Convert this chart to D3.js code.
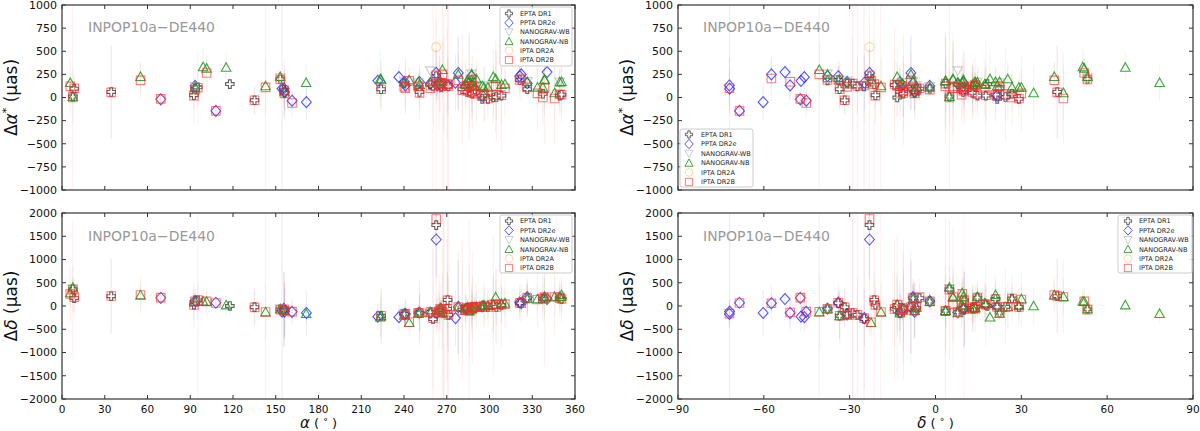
<!DOCTYPE html>
<html><head><meta charset="utf-8">
<script src="https://cdn.jsdelivr.net/npm/d3@7"></script>
<style>body{margin:0;background:#fff}svg{display:block}text{font-family:"DejaVu Sans",sans-serif}</style>
</head><body><svg id="c" width="1200" height="431"></svg>
<script>
// pulsar catalogue: name, right ascension (deg), declination (deg)
const pulsars = [
 ["J0023+0923",5.82,9.39],["J0030+0451",7.61,4.86],["J0034-0534",8.59,-5.58],["J0218+4232",34.53,42.54],
 ["J0340+4130",55.10,41.51],["J0437-4715",69.32,-47.25],["J0610-2100",92.56,-21.01],["J0613-0200",93.43,-2.01],
 ["J0621+1002",95.31,10.04],["J0636+5128",99.02,51.48],["J0645+5158",101.46,51.98],["J0711-6830",107.98,-68.51],
 ["J0740+6620",115.19,66.34],["J0751+1807",117.79,18.13],["J0900-3144",135.09,-31.74],["J0931-1902",142.84,-19.05],
 ["J1012+5307",153.14,53.12],["J1017-7156",154.37,-71.95],["J1022+1001",155.74,10.03],["J1024-0719",156.16,-7.32],
 ["J1045-4509",161.46,-45.17],["J1125+7819",171.33,78.32],["J1125-6014",171.49,-60.24],["J1446-4701",221.66,-47.02],
 ["J1453+1902",223.37,19.04],["J1455-3330",223.95,-33.51],["J1545-4550",236.44,-45.84],["J1600-3053",240.22,-30.90],
 ["J1603-7202",240.97,-72.04],["J1614-2230",243.65,-22.51],["J1640+2224",250.07,22.40],["J1643-1224",250.91,-12.42],
 ["J1713+0747",258.46,7.79],["J1721-2457",260.36,-24.95],["J1730-2304",262.59,-23.08],["J1732-5049",263.20,-50.82],
 ["J1738+0333",264.73,3.55],["J1741+1351",265.38,13.86],["J1744-1134",266.12,-11.58],["J1747-4036",266.95,-40.62],
 ["J1751-2857",267.92,-28.95],["J1801-1417",270.35,-14.29],["J1802-2124",270.59,-21.41],["J1804-2717",271.12,-27.29],
 ["J1824-2452A",276.13,-24.87],["J1832-0836",278.09,-8.61],["J1843-1113",280.93,-11.23],["J1853+1303",283.30,13.06],
 ["J1857+0943",284.40,9.72],["J1903+0327",285.81,3.46],["J1909-3744",287.45,-37.74],["J1910+1256",287.55,12.94],
 ["J1911-1114",287.96,-11.24],["J1911+1347",287.97,13.80],["J1918-0642",289.70,-6.70],["J1923+2515",290.83,25.26],
 ["J1939+2134",294.91,21.58],["J1944+0907",296.06,9.12],["J1946+3417",296.60,34.29],["J1955+2908",298.88,29.15],
 ["J2010-1323",302.68,-13.39],["J2017+0603",304.34,6.05],["J2019+2425",304.86,24.42],["J2033+1734",308.38,17.58],
 ["J2043+1711",310.84,17.19],["J2124-3358",321.18,-33.98],["J2129-5721",322.25,-57.35],["J2145-0750",326.46,-7.84],
 ["J2214+3000",333.66,30.01],["J2229+2643",337.47,26.73],["J2234+0611",338.60,6.19],["J2234+0944",338.70,9.74],
 ["J2241-5236",340.42,-52.61],["J2302+4442",345.70,44.71],["J2317+1439",349.29,14.66],["J2322+2057",350.56,20.96]
];

// per dataset rows: pulsar, Δα* (μas), Δδ (μas), σΔα*, σΔδ
const eptaDR1 = [
 ["J0030+0451",10,360,300,500],["J0034-0534",95,170,120,300],["J0218+4232",60,210,500,800],["J0610-2100",25,30,150,350],
 ["J0613-0200",95,100,40,100],["J0621+1002",110,120,200,400],["J0751+1807",145,0,100,200],["J0900-3144",-30,-25,150,400],
 ["J1012+5307",200,-70,60,60],["J1022+1001",85,-80,150,800],["J1024-0719",50,-90,250,600],["J1455-3330",90,-210,200,500],
 ["J1600-3053",150,-170,40,100],["J1640+2224",100,-140,100,150],["J1643-1224",60,-150,200,600],["J1713+0747",140,-130,20,30],
 ["J1721-2457",120,-280,400,1500],["J1730-2304",230,1740,300,1200],["J1738+0333",150,-100,300,400],["J1744-1134",110,-90,40,200],
 ["J1751-2857",150,-150,500,2000],["J1801-1417",135,-60,300,800],["J1802-2124",140,130,150,600],["J1804-2717",120,-190,300,800],
 ["J1843-1113",90,-80,300,900],["J1853+1303",120,-60,150,300],["J1857+0943",60,-40,60,100],["J1909-3744",185,-60,30,80],
 ["J1910+1256",50,-40,200,300],["J1911+1347",130,-20,80,150],["J1911-1114",40,-50,250,700],["J1918-0642",90,-40,80,200],
 ["J1939+2134",-15,-20,20,30],["J1955+2908",-15,-20,100,150],["J2010-1323",0,20,200,700],["J2019+2425",5,-20,250,400],
 ["J2033+1734",20,20,300,400],["J2124-3358",190,60,150,300],["J2145-0750",90,170,70,400],["J2229+2643",40,160,200,300],
 ["J2317+1439",20,180,150,300],["J2322+2057",30,150,200,300]
];
const pptaDR2e = [
 ["J0437-4715",-20,175,60,100],["J0613-0200",125,105,50,150],["J0711-6830",-145,70,40,60],["J1017-7156",95,-120,3000,3000],
 ["J1022+1001",100,-60,120,800],["J1024-0719",60,-120,200,500],["J1045-4509",-35,-125,100,200],["J1125-6014",-50,-150,200,500],
 ["J1446-4701",180,-230,150,300],["J1545-4550",220,-240,150,300],["J1600-3053",170,-180,40,100],["J1603-7202",130,-170,300,300],
 ["J1643-1224",165,-140,150,400],["J1713+0747",150,-140,20,30],["J1730-2304",265,1430,250,800],["J1732-5049",130,-150,150,300],
 ["J1744-1134",130,-70,40,200],["J1824-2452A",160,-260,300,600],["J1832-0836",265,-20,400,1000],["J1857+0943",160,-60,100,200],
 ["J1909-3744",230,-55,20,50],["J1939+2134",20,-10,20,30],["J2124-3358",230,75,100,200],["J2129-5721",250,60,150,200],
 ["J2145-0750",155,190,60,300],["J2241-5236",275,150,80,150]
];
const nanogravWB = [
 ["J0030+0451",20,380,80,250],["J0613-0200",120,90,90,220],["J1012+5307",215,-55,70,80],["J1600-3053",180,-190,70,160],
 ["J1640+2224",160,-150,90,120],["J1713+0747",290,-150,25,40],["J1744-1134",160,-70,50,220],["J1909-3744",255,-55,25,60],
 ["J1918-0642",130,-25,90,220],["J1939+2134",130,-5,25,40],["J2145-0750",175,140,110,320],["J2317+1439",170,195,160,220]
];
const nanogravNB = [
 ["J0023+0923",160,280,100,300],["J0030+0451",10,400,60,200],["J0340+4130",225,235,150,250],["J0613-0200",110,95,80,200],
 ["J0636+5128",330,100,200,300],["J0645+5158",315,95,100,200],["J0740+6620",325,20,150,200],["J0931-1902",125,-130,300,600],
 ["J1012+5307",225,-60,60,60],["J1024-0719",60,-100,200,600],["J1125+7819",160,-165,200,200],["J1453+1902",200,-240,300,400],
 ["J1455-3330",195,-215,200,600],["J1600-3053",165,-200,60,150],["J1614-2230",190,-360,100,200],["J1640+2224",170,-160,80,100],
 ["J1643-1224",140,-140,150,400],["J1713+0747",165,-150,20,30],["J1738+0333",180,-100,200,300],["J1741+1351",170,-40,100,200],
 ["J1744-1134",150,-80,40,200],["J1747-4036",300,-130,300,800],["J1832-0836",250,-20,400,1200],["J1853+1303",140,-50,200,300],
 ["J1857+0943",180,-30,80,150],["J1903+0327",180,-100,500,1000],["J1909-3744",250,-60,20,50],["J1910+1256",130,-30,200,400],
 ["J1911+1347",160,-40,100,200],["J1918-0642",120,-30,80,200],["J1923+2515",200,-20,200,300],["J1939+2134",125,0,20,30],
 ["J1944+0907",110,20,150,300],["J1946+3417",50,0,300,400],["J1955+2908",110,10,150,300],["J2010-1323",225,30,150,600],
 ["J2017+0603",200,190,300,400],["J2033+1734",140,50,200,400],["J2043+1711",145,60,150,300],["J2145-0750",170,150,100,300],
 ["J2214+3000",110,150,200,300],["J2229+2643",110,150,150,200],["J2234+0611",195,195,400,500],["J2234+0944",190,200,300,400],
 ["J2302+4442",50,200,300,400],["J2317+1439",165,200,150,200],["J2322+2057",170,240,150,300]
];
const iptaDR2A = [
 ["J0437-4715",-10,175,80,120],["J1012+5307",200,-75,80,80],["J1640+2224",110,-145,120,160],["J1713+0747",120,-135,30,40],
 ["J1730-2304",545,2300,300,900],["J1744-1134",115,-85,60,220],["J1909-3744",200,-60,30,70]
];
const iptaDR2B = [
 ["J0023+0923",120,260,300,600],["J0030+0451",0,350,1200,1500],["J0034-0534",100,190,150,400],["J0218+4232",55,215,500,800],
 ["J0340+4130",185,235,200,400],["J0437-4715",-15,180,60,100],["J0610-2100",20,20,300,500],["J0613-0200",85,100,60,150],
 ["J0621+1002",105,130,400,2500],["J0645+5158",265,100,200,300],["J0711-6830",-145,65,50,80],["J0900-3144",-30,-30,150,400],
 ["J0931-1902",110,-130,1500,2500],["J1012+5307",195,-80,60,80],["J1022+1001",80,-70,300,800],["J1024-0719",45,-100,300,600],
 ["J1045-4509",-60,-120,150,300],["J1455-3330",90,-210,250,500],["J1600-3053",115,-175,60,150],["J1603-7202",100,-165,200,300],
 ["J1614-2230",180,-350,150,300],["J1640+2224",120,-150,150,200],["J1643-1224",50,-150,300,700],["J1713+0747",100,-130,20,40],
 ["J1721-2457",130,-260,1500,2500],["J1730-2304",240,1870,1500,2500],["J1732-5049",170,-140,200,400],["J1738+0333",150,-110,500,800],
 ["J1741+1351",140,-60,300,500],["J1744-1134",120,-80,60,250],["J1747-4036",250,-125,1500,2500],["J1751-2857",150,-150,1500,2500],
 ["J1801-1417",140,-65,600,1500],["J1802-2124",145,120,1500,2500],["J1804-2717",125,-190,1500,2500],["J1832-0836",185,-20,300,1000],
 ["J1843-1113",80,-90,600,1500],["J1853+1303",120,-60,300,500],["J1857+0943",70,-40,100,200],["J1903+0327",120,-110,600,2000],
 ["J1909-3744",190,-65,30,80],["J1910+1256",60,-30,300,500],["J1911-1114",50,-50,400,1200],["J1911+1347",130,-20,150,300],
 ["J1918-0642",80,-20,150,300],["J1923+2515",40,-10,300,500],["J1939+2134",25,-20,40,60],["J1944+0907",30,10,300,500],
 ["J1955+2908",-10,-20,200,400],["J2010-1323",125,30,400,1500],["J2017+0603",120,40,500,800],["J2019+2425",25,-20,500,800],
 ["J2033+1734",25,30,600,900],["J2043+1711",100,40,300,500],["J2124-3358",190,70,200,400],["J2129-5721",205,60,250,400],
 ["J2145-0750",110,180,100,400],["J2214+3000",45,140,400,600],["J2229+2643",0,160,300,500],["J2234+0611",100,190,600,1500],
 ["J2302+4442",-10,195,500,800],["J2317+1439",35,170,250,400],["J2322+2057",30,150,300,500]
];

const raTicks = [0,30,60,90,120,150,180,210,240,270,300,330,360];
const decTicks = [-90,-60,-30,0,30,60,90];
const draTicks = [-1000,-750,-500,-250,0,250,500,750,1000];
const ddecTicks = [-2000,-1500,-1000,-500,0,500,1000,1500,2000];
const legendLabels = ["EPTA DR1","PPTA DR2e","NANOGRAV-WB","NANOGRAV-NB","IPTA DR2A","IPTA DR2B"];
const ephemLabel = "INPOP10a\u2212DE440";

const svg = d3.select("#c");
const pos = new Map(pulsars.map(p => [p[0], {ra: p[1], dec: p[2]}]));

const styles = [
 {rows: eptaDR1,   shape: "plus",    stroke: "rgba(70,70,70,0.85)",   fill: "#fff", err: "rgba(110,110,110,0.08)", size: 8.5},
 {rows: pptaDR2e,  shape: "diamond", stroke: "rgba(30,30,255,0.75)",  fill: "none", err: "rgba(60,60,255,0.09)", size: 11},
 {rows: nanogravWB,shape: "tridown", stroke: "rgba(170,170,170,0.6)", fill: "none", err: "rgba(150,150,150,0.06)", size: 9.5},
 {rows: nanogravNB,shape: "triup",   stroke: "rgba(30,150,30,0.85)",  fill: "none", err: "rgba(30,150,30,0.07)", size: 9.5},
 {rows: iptaDR2A,  shape: "circle",  stroke: "rgba(255,170,60,0.45)", fill: "none", err: "rgba(255,170,60,0.07)", size: 9},
 {rows: iptaDR2B,  shape: "square",  stroke: "rgba(255,40,40,0.6)",   fill: "none", err: "rgba(255,60,60,0.08)", size: 8.5}
];

function markerPath(shape, s) {
  const h = s / 2;
  if (shape === "square") return `M${-h},${-h}H${h}V${h}H${-h}Z`;
  if (shape === "diamond") { const w = s * 0.45; return `M0,${-h}L${w},0L0,${h}L${-w},0Z`; }
  if (shape === "triup") return `M0,${-h}L${h},${h*0.8}L${-h},${h*0.8}Z`;
  if (shape === "tridown") return `M0,${h}L${h},${-h*0.8}L${-h},${-h*0.8}Z`;
  if (shape === "circle") return `M${h},0A${h},${h} 0 1,1 ${-h},0A${h},${h} 0 1,1 ${h},0Z`;
  const a = s / 6;
  return `M${-a},${-h}H${a}V${-a}H${h}V${a}H${a}V${h}H${-a}V${a}H${-h}V${-a}H${-a}Z`;
}

const panels = [
 {id:"tl", xKey:"ra",  yKey:"dra",  xDom:[0,360],   yDom:[-1000,1000], x0:62,  x1:575,  y0:5,   y1:190, xt:raTicks,  yt:draTicks,  showX:false,
  ylab:["Δ","α","*"," (μas)"], ylabX:17, leg:{x:500,y:7,w:72,h:59,mx:509,tx:520,ty:13.5,dy:9.3}, info:{x:88,y:32}},
 {id:"tr", xKey:"dec", yKey:"dra",  xDom:[-90,90],  yDom:[-1000,1000], x0:678, x1:1193, y0:5,   y1:190, xt:decTicks, yt:draTicks,  showX:false,
  ylab:["Δ","α","*"," (μas)"], ylabX:633, leg:{x:680,y:129,w:73,h:58,mx:689,tx:701,ty:134.5,dy:9.5}, info:{x:703,y:32}},
 {id:"bl", xKey:"ra",  yKey:"ddec", xDom:[0,360],   yDom:[-2000,2000], x0:62,  x1:575,  y0:213, y1:399, xt:raTicks,  yt:ddecTicks, showX:true,
  ylab:["Δ","δ",""," (μas)"], ylabX:17, xlab:"α", leg:{x:500,y:215,w:72,h:58,mx:509,tx:520,ty:221,dy:9.4}, info:{x:88,y:241}},
 {id:"br", xKey:"dec", yKey:"ddec", xDom:[-90,90],  yDom:[-2000,2000], x0:678, x1:1193, y0:213, y1:399, xt:decTicks, yt:ddecTicks, showX:true,
  ylab:["Δ","δ",""," (μas)"], ylabX:633, xlab:"δ", leg:{x:1118,y:215,w:74,h:58,mx:1128,tx:1139,ty:221,dy:9.4}, info:{x:703,y:241}}
];

const fmt = d3.format("");
panels.forEach(p => {
  const x = d3.scaleLinear().domain(p.xDom).range([p.x0, p.x1]);
  const y = d3.scaleLinear().domain(p.yDom).range([p.y1, p.y0]);
  svg.append("clipPath").attr("id", "clip-" + p.id)
    .append("rect").attr("x", p.x0).attr("y", p.y0).attr("width", p.x1 - p.x0).attr("height", p.y1 - p.y0);
  const g = svg.append("g").attr("clip-path", `url(#clip-${p.id})`);

  const pts = styles.map(st => st.rows.map(r => {
    const c = pos.get(r[0]);
    const xv = p.xKey === "ra" ? c.ra : c.dec;
    const yv = p.yKey === "dra" ? r[1] : r[2];
    const sv = p.yKey === "dra" ? r[3] : r[4];
    return {xv, yv, sv};
  }));

  // error bars
  styles.forEach((st, i) => {
    g.append("g").selectAll("line").data(pts[i]).join("line")
      .attr("x1", d => x(d.xv)).attr("x2", d => x(d.xv))
      .attr("y1", d => y(d.yv - d.sv)).attr("y2", d => y(d.yv + d.sv))
      .attr("stroke", st.err).attr("stroke-width", 1.2);
  });
  // markers
  styles.forEach((st, i) => {
    g.append("g").selectAll("path").data(pts[i]).join("path")
      .attr("transform", d => `translate(${x(d.xv)},${y(d.yv)})`)
      .attr("d", markerPath(st.shape, st.size))
      .attr("fill", st.fill).attr("stroke", st.stroke).attr("stroke-width", 1.1);
  });

  // frame
  svg.append("rect").attr("x", p.x0).attr("y", p.y0).attr("width", p.x1 - p.x0).attr("height", p.y1 - p.y0)
    .attr("fill", "none").attr("stroke", "#333").attr("stroke-width", 1.2);

  // axes with inward ticks on all sides
  const ax = svg.append("g").attr("stroke", "#333").attr("stroke-width", 1);
  p.xt.forEach(t => {
    ax.append("line").attr("x1", x(t)).attr("x2", x(t)).attr("y1", p.y1).attr("y2", p.y1 - 4);
    ax.append("line").attr("x1", x(t)).attr("x2", x(t)).attr("y1", p.y0).attr("y2", p.y0 + 4);
  });
  p.yt.forEach(t => {
    ax.append("line").attr("x1", p.x0).attr("x2", p.x0 + 4).attr("y1", y(t)).attr("y2", y(t));
    ax.append("line").attr("x1", p.x1).attr("x2", p.x1 - 4).attr("y1", y(t)).attr("y2", y(t));
  });
  svg.append("g").selectAll("text").data(p.yt).join("text")
    .attr("x", p.x0 - 5).attr("y", d => y(d) + 3.8).attr("text-anchor", "end")
    .attr("font-size", 11).attr("fill", "#111").text(d => fmt(d));
  if (p.showX) {
    svg.append("g").selectAll("text").data(p.xt).join("text")
      .attr("x", d => x(d)).attr("y", p.y1 + 13.5).attr("text-anchor", "middle")
      .attr("font-size", 10.5).attr("fill", "#111").text(d => fmt(d));
    const xl = svg.append("text").attr("x", (p.x0 + p.x1) / 2).attr("y", 427.8)
      .attr("text-anchor", "middle").attr("font-size", 13).attr("fill", "#111");
    xl.append("tspan").attr("font-style", "italic").attr("font-size", 15).text(p.xlab);
    xl.append("tspan").text(" ( ");
    xl.append("tspan").attr("dy", -3).attr("font-size", 9.5).text("°");
    xl.append("tspan").attr("dy", 3).text(" )");
  }

  // y label
  const yl = svg.append("text").attr("transform", `translate(${p.ylabX},${(p.y0 + p.y1) / 2}) rotate(-90)`)
    .attr("text-anchor", "middle").attr("font-size", 17).attr("fill", "#111");
  yl.append("tspan").text(p.ylab[0]);
  yl.append("tspan").attr("font-style", "italic").text(p.ylab[1]);
  if (p.ylab[2]) {
    yl.append("tspan").attr("dy", -7).attr("font-size", 11).text(p.ylab[2]);
    yl.append("tspan").attr("dy", 7).text(p.ylab[3]);
  } else yl.append("tspan").text(p.ylab[3]);

  // ephemeris label
  svg.append("text").attr("x", p.info.x).attr("y", p.info.y).attr("font-size", 14)
    .attr("fill", "#999").text(ephemLabel);

  // legend
  const L = p.leg;
  const lg = svg.append("g");
  lg.append("rect").attr("x", L.x).attr("y", L.y).attr("width", L.w).attr("height", L.h)
    .attr("rx", 2).attr("fill", "#fff").attr("fill-opacity", 0.85).attr("stroke", "#ccc").attr("stroke-width", 1);
  legendLabels.forEach((lab, i) => {
    const st = styles[i];
    const yy = L.ty + i * L.dy;
    lg.append("path").attr("transform", `translate(${L.mx},${yy})`)
      .attr("d", markerPath(st.shape, st.size * 0.85))
      .attr("fill", st.fill).attr("stroke", st.stroke).attr("stroke-width", 1);
    lg.append("text").attr("x", L.tx).attr("y", yy + 2.3).attr("font-size", 6.5).attr("fill", "#222").text(lab);
  });
});
</script></body></html>
